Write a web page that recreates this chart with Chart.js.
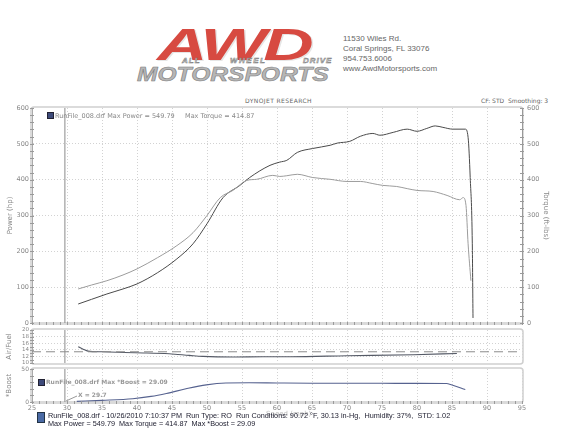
<!DOCTYPE html>
<html>
<head>
<meta charset="utf-8">
<script src="https://cdn.jsdelivr.net/npm/chart.js@4.4.1/dist/chart.umd.min.js"></script>
<style>
  body { margin: 0; background: #fff; width: 566px; height: 435px; overflow: hidden; position: relative; font-family: "DejaVu Sans", sans-serif; }
  canvas { position: absolute; left: 0; }
  .t { position: absolute; white-space: nowrap; line-height: 1; }
  .addr { font: 8px "Liberation Sans", sans-serif; color: #666; left: 343px; }
  .wd { position: absolute; white-space: nowrap; line-height: 1; top: 56px; font: italic bold 8px "Liberation Sans", sans-serif; color: #d8d8d8; -webkit-text-stroke: 0.5px #7a7a7a; letter-spacing: 1px; }
  .sq { position: absolute; width: 5px; height: 5px; background: #3d4a7a; border: 1px solid #223; }
</style>
</head>
<body>

<!-- header / logo -->
<div class="t" style="left:157px;top:19px;font:italic bold 45px 'Liberation Sans';color:#d74a41;transform:scaleX(1.55);transform-origin:0 0;letter-spacing:-2px;text-shadow:1px 1px 0 #e6e6e6">AWD</div>
<div class="wd" style="left:182px">ALL</div>
<div class="wd" style="left:230px;letter-spacing:1.5px">WHEEL</div>
<div class="wd" style="left:303px">DRIVE</div>
<div class="t" style="left:137px;top:62px;font:italic bold 21px 'Liberation Sans';color:#b6b6b6;-webkit-text-stroke:0.6px #808080;transform:scaleX(1.17);transform-origin:0 0">MOTORSPORTS</div>
<div class="t addr" style="top:34px">11530 Wiles Rd.</div>
<div class="t addr" style="top:44px">Coral Springs, FL 33076</div>
<div class="t addr" style="top:54px">954.753.6006</div>
<div class="t addr" style="top:64px">www.AwdMotorsports.com</div>

<div class="t" style="left:245px;top:98px;font-size:6px;color:#666;letter-spacing:0.4px">DYNOJET RESEARCH</div>
<div class="t" style="left:481px;top:98px;font-size:6px;color:#666">CF: STD&nbsp; Smoothing: 3</div>

<canvas id="main" width="566" height="229" style="top:100px"></canvas>
<canvas id="afr" width="566" height="43" style="top:326px"></canvas>
<canvas id="boost" width="566" height="54" style="top:364px"></canvas>

<!-- legends -->
<div class="sq" style="left:47px;top:112px"></div>
<div class="t" style="left:55px;top:113px;font-size:6.5px;color:#888">RunFile_008.drf Max Power = 549.79&nbsp;&nbsp;&nbsp;&nbsp; Max Torque = 414.87</div>
<div class="sq" style="left:38px;top:379px"></div>
<div class="t" style="left:46px;top:379px;font-size:6px;font-weight:bold;color:#999">RunFile_008.drf Max *Boost = 29.09</div>
<div class="t" style="left:78px;top:392px;font-size:6px;font-weight:bold;color:#999">X = 29.7</div>
<svg style="position:absolute;left:0;top:0" width="566" height="435"><line x1="66" y1="401" x2="77" y2="396" stroke="#999" stroke-width="1"/></svg>

<!-- footer -->
<div class="t" style="left:266px;top:410px;font:7px 'DejaVu Sans';color:#bbb">Speed (mph)</div>
<div style="position:absolute;left:37px;top:412px;width:6px;height:9px;background:#4a6aa5;border:1px solid #234"></div>
<div class="t" style="left:48px;top:411px;font:8px 'Liberation Sans';color:#223;transform:scaleX(0.91);transform-origin:0 0">RunFile_008.drf - 10/26/2010 7:10:37 PM&nbsp; Run Type: RO&nbsp; Run Conditions: 90.72 °F, 30.13 in-Hg,&nbsp; Humidity: 37%,&nbsp; STD: 1.02</div>
<div class="t" style="left:48px;top:419px;font:8px 'Liberation Sans';color:#223;transform:scaleX(0.91);transform-origin:0 0">Max Power = 549.79&nbsp; Max Torque = 414.87&nbsp; Max *Boost = 29.09</div>

<script>
/* ---------- data ---------- */
const speedPower = [31.6, 33.5, 35.7, 38, 40, 42.9, 45.7, 48, 50, 52.3, 54.7, 56.1, 59, 60.4, 61.4, 62.9, 65.1, 67.6, 68.6, 70.4, 71.9, 73.7, 74.7, 76.6, 78.6, 80, 81.4, 82.6, 83.7, 85.1, 86.9, 87.3, 87.6, 87.9, 88.0];
const powerHp    = [53, 66, 81, 95, 109, 140, 179, 221, 277, 350, 384, 406, 440, 449, 454, 476, 487, 496, 502, 507, 521, 529, 524, 532, 541, 535, 543, 550, 546, 541, 541, 518, 406, 221, 14];

const speedTorque = [31.6, 33.5, 35.7, 38, 40, 42.9, 45.7, 48, 50, 51.9, 53.7, 55.7, 57.1, 59.4, 60.4, 61.4, 62.9, 65.1, 67.6, 70, 71.9, 73.7, 75.1, 77.1, 78.6, 80, 82.3, 84.3, 86.1, 86.6, 87, 87.3, 87.7];
const torqueFtLb  = [95, 106, 118, 134, 151, 182, 216, 252, 300, 350, 370, 398, 401, 412, 409, 411, 415, 406, 401, 395, 395, 389, 384, 381, 375, 370, 367, 356, 344, 350, 328, 221, 118];

const speedAfr  = [31.6, 32.3, 33.0, 35, 39.8, 44.6, 47.5, 49.4, 53.7, 58, 62, 70, 79.5, 85.7];
const afrValues = [14.9, 14.2, 13.6, 13.4, 13.1, 12.8, 12.3, 12.0, 11.8, 11.9, 11.9, 12.2, 12.5, 12.9];
const afrTarget = 13.4;

const speedBoost = [31.4, 35, 39.4, 42, 44.2, 47, 49.9, 52.7, 56, 60, 65, 70, 75, 80, 84.2, 85, 86.9];
const boostPsi   = [1.0, 2.5, 5, 8.5, 13, 20, 26, 28.8, 29.1, 28.8, 28.5, 28.4, 28.3, 28.2, 28, 25.7, 19];

const cursorX = 29.7;
const speedMin = 25, speedMax = 95, speedStep = 5;
const powerTicks = [0, 100, 200, 300, 400, 500, 600];
const afrTicks = [10, 12, 14, 16, 18, 20];
const boostTicks = [0, 50];

const pts = (xs, ys) => xs.map((x, i) => ({ x: x, y: ys[i] }));
const GRID = "#d2d2d2";
const LABEL = "#888";

/* ---------- plugins: panel frame + minor ticks ---------- */
const panelFrame = {
  id: "panelFrame",
  beforeDraw(chart, args, o) {
    const { left, top, right, bottom } = chart.chartArea;
    const ctx = chart.ctx;
    ctx.save();
    ctx.strokeStyle = "#cfcfcf";
    ctx.lineWidth = 1.5;
    ctx.beginPath();
    ctx.roundRect(left - 1, top - 1, right - left + 2, bottom - top + 2, 3);
    ctx.stroke();
    if (o.band) {
      ctx.fillStyle = "#dadada";
      ctx.fillRect(left, bottom - 1, right - left, 3);
    }
    ctx.restore();
  }
};

const minorTicks = {
  id: "minorTicks",
  afterDraw(chart, args, o) {
    const ctx = chart.ctx;
    const ca = chart.chartArea;
    ctx.save();
    ctx.strokeStyle = "#9a9a9a";
    ctx.lineWidth = 1;
    (o.list || []).forEach(m => {
      const s = chart.scales[m.axis];
      ctx.beginPath();
      for (let v = s.min; v <= s.max + 1e-9; v += m.step) {
        const p = Math.round(s.getPixelForValue(v)) + 0.5;
        if (s.isHorizontal()) {
          ctx.moveTo(p, ca.bottom - 1);
          ctx.lineTo(p, ca.bottom + 2);
        } else {
          const x = m.side === "right" ? ca.right : ca.left;
          ctx.moveTo(x - 2, p);
          ctx.lineTo(x + 2, p);
        }
      }
      ctx.stroke();
    });
    ctx.restore();
  }
};

Chart.register(panelFrame, minorTicks);
Chart.defaults.font.family = "'DejaVu Sans', sans-serif";
Chart.defaults.animation = false;

function speedAxis(showLabels) {
  return {
    type: "linear", min: speedMin, max: speedMax,
    ticks: { stepSize: speedStep, display: showLabels, color: LABEL, font: { size: 6.5 }, padding: 2, maxRotation: 0, autoSkip: false },
    grid: { color: GRID, drawTicks: false },
    border: { display: false, dash: [1, 2] },
    afterFit(s) { s.height = showLabels ? 16 : 6; s.paddingLeft = 0; s.paddingRight = 0; }
  };
}

function leftAxis(min, max, ticks, title, fontSize, titlePad) {
  return {
    position: "left", min: min, max: max,
    afterBuildTicks(s) { s.ticks = ticks.map(v => ({ value: v })); },
    ticks: { color: LABEL, font: { size: fontSize }, padding: 3, autoSkip: false },
    grid: { color: c => (c.tick && (c.tick.value === min || c.tick.value === max)) ? "rgba(0,0,0,0)" : GRID, drawTicks: false },
    border: { color: "#aaa", dash: [1, 2] },
    title: { display: true, text: title, color: LABEL, font: { size: 7 }, padding: { top: titlePad } },
    afterFit(s) { s.width = 32; s.paddingTop = 0; s.paddingBottom = 0; }
  };
}

function lineSet(data, color, width, extra) {
  return Object.assign({
    data: data, borderColor: color, borderWidth: width, pointRadius: 0,
    fill: false, cubicInterpolationMode: "monotone"
  }, extra || {});
}

const cursorSet = (lo, hi, yId) => lineSet([{ x: cursorX, y: lo }, { x: cursorX, y: hi }], "#8a8a8a", 1, { yAxisID: yId, cubicInterpolationMode: "default" });

/* ---------- main power / torque panel ---------- */
new Chart(document.getElementById("main"), {
  type: "line",
  data: {
    datasets: [
      cursorSet(0, 600, "y"),
      lineSet(pts(speedTorque, torqueFtLb), "#9c9c9c", 1, { yAxisID: "y2" }),
      lineSet(pts(speedPower, powerHp), "#4a4a4a", 1, { yAxisID: "y" })
    ]
  },
  options: {
    responsive: false,
    layout: { padding: { top: 8 } },
    plugins: {
      legend: { display: false }, tooltip: { enabled: false },
      panelFrame: { band: true },
      minorTicks: { list: [{ axis: "y", step: 20 }, { axis: "y2", step: 20, side: "right" }, { axis: "x", step: 1 }] }
    },
    scales: {
      x: speedAxis(false),
      y: leftAxis(0, 600, powerTicks, "Power (hp)", 6.5, 6),
      y2: {
        position: "right", min: 0, max: 600,
        afterBuildTicks(s) { s.ticks = powerTicks.map(v => ({ value: v })); },
        ticks: { color: LABEL, font: { size: 6.5 }, padding: 5 },
        grid: { drawOnChartArea: false, drawTicks: false },
        border: { color: "#999" },
        title: { display: true, text: "Torque (ft-lbs)", color: LABEL, font: { size: 7 }, padding: { top: 16 } },
        afterFit(s) { s.width = 44; s.paddingTop = 0; s.paddingBottom = 0; }
      }
    }
  }
});

/* ---------- air / fuel panel ---------- */
new Chart(document.getElementById("afr"), {
  type: "line",
  data: {
    datasets: [
      cursorSet(10, 20, "y"),
      lineSet([{ x: speedMin, y: afrTarget }, { x: speedMax, y: afrTarget }], "#8c8c8c", 1, { borderDash: [9, 5] }),
      lineSet(pts(speedAfr, afrValues), "#555a66", 1.1)
    ]
  },
  options: {
    responsive: false,
    layout: { padding: { top: 4, right: 44 } },
    plugins: { legend: { display: false }, tooltip: { enabled: false }, panelFrame: {}, minorTicks: { list: [{ axis: "y", step: 1 }] } },
    scales: {
      x: speedAxis(false),
      y: leftAxis(10, 20, afrTicks, "Air/Fuel", 5.5, 5)
    }
  }
});

/* ---------- boost panel ---------- */
new Chart(document.getElementById("boost"), {
  type: "line",
  data: {
    datasets: [
      cursorSet(0, 50, "y"),
      lineSet(pts(speedBoost, boostPsi), "#56628f", 1.1)
    ]
  },
  options: {
    responsive: false,
    layout: { padding: { top: 5, right: 44 } },
    plugins: { legend: { display: false }, tooltip: { enabled: false }, panelFrame: { band: true }, minorTicks: { list: [{ axis: "y", step: 10 }, { axis: "x", step: 1 }] } },
    scales: {
      x: speedAxis(true),
      y: leftAxis(0, 50, boostTicks, "*Boost", 6, 5)
    }
  }
});
</script>
</body>
</html>
